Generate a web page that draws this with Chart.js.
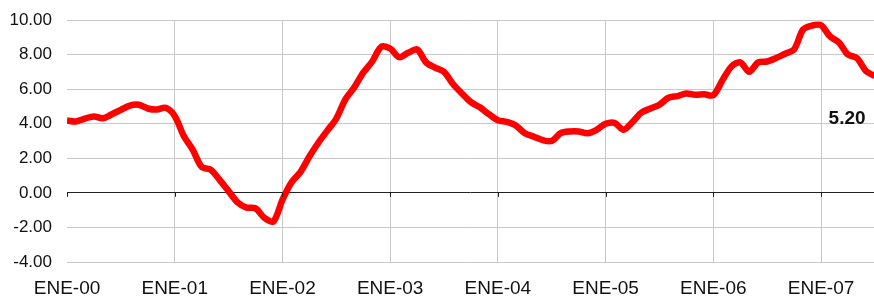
<!DOCTYPE html>
<html>
<head>
<meta charset="utf-8">
<script src="https://cdn.jsdelivr.net/npm/chart.js@4"></script>
<style>
  html, body { margin: 0; padding: 0; background: #fff; }
  canvas { display: block; }
</style>
</head>
<body>
<canvas id="grafico" width="874" height="297"></canvas>
<script>
// etichette anni (una ogni 12 mesi)
const anni = ['ENE-00', 'ENE-01', 'ENE-02', 'ENE-03', 'ENE-04', 'ENE-05', 'ENE-06', 'ENE-07'];

// valori mensili, gen 2000 -> lug 2007
const valori = [
  4.18, 4.13, 4.30, 4.42, 4.32, 4.55, 4.80, 5.05, 5.10, 4.88, 4.82, 4.92,
  4.45, 3.30, 2.50, 1.50, 1.35, 0.75, 0.10, -0.55, -0.85, -0.90, -1.45, -1.65,
  -0.40, 0.60, 1.20, 2.10, 2.90, 3.60, 4.30, 5.40, 6.10, 6.95, 7.60, 8.45,
  8.35, 7.85, 8.10, 8.30, 7.55, 7.25, 7.00, 6.30, 5.75, 5.25, 4.95, 4.55,
  4.20, 4.10, 3.90, 3.45, 3.25, 3.05, 3.00, 3.45, 3.55, 3.55, 3.45, 3.65,
  4.00, 4.05, 3.65, 4.10, 4.65, 4.88, 5.10, 5.50, 5.60, 5.75, 5.67, 5.70,
  5.65, 6.50, 7.30, 7.55, 7.00, 7.55, 7.60, 7.80, 8.05, 8.30, 9.45, 9.68,
  9.70, 9.05, 8.70, 8.00, 7.80, 7.05, 6.75
];

// ultimo dato indicato sul grafico
const ultimoValore = '5.20';
const posUltimo = { x: 86.9, y: 4.28 };

const punti = valori.map((v, i) => ({ x: i, y: v }));

// tacche sotto la linea dello zero + testo del valore finale
const extraPlugin = {
  id: 'extra',
  afterDatasetsDraw(chart) {
    const c = chart.ctx;
    const sx = chart.scales.x;
    const sy = chart.scales.y;
    const y0 = sy.getPixelForValue(0);
    c.save();
    c.strokeStyle = '#222';
    c.lineWidth = 1;
    anni.forEach((a, i) => {
      const x = Math.round(sx.getPixelForValue(i * 12)) + 0.5;
      c.beginPath();
      c.moveTo(x, y0);
      c.lineTo(x, y0 + 4);
      c.stroke();
    });
    c.fillStyle = '#111';
    c.font = 'bold 19px "Liberation Sans", Arial, sans-serif';
    c.textAlign = 'center';
    c.textBaseline = 'middle';
    c.fillText(ultimoValore, sx.getPixelForValue(posUltimo.x), sy.getPixelForValue(posUltimo.y));
    c.restore();
  }
};

const ctx = document.getElementById('grafico').getContext('2d');
const grafico = new Chart(ctx, {
  type: 'line',
  data: {
    datasets: [{
      data: punti,
      borderColor: '#ff0000',
      borderWidth: 6.5,
      pointRadius: 0,
      tension: 0.3,
      fill: false
    }]
  },
  options: {
    responsive: false,
    animation: false,
    layout: { padding: { top: 20, left: 0, right: 0, bottom: 0 } },
    plugins: {
      legend: { display: false },
      tooltip: { enabled: false }
    },
    scales: {
      x: {
        type: 'linear',
        min: 0,
        max: 89.9,
        border: { display: false },
        grid: {
          drawTicks: false,
          color: (c) => (c.tick && c.tick.value === 0 ? 'rgba(0,0,0,0)' : '#c8c8c8')
        },
        afterBuildTicks: (s) => { s.ticks = anni.map((a, i) => ({ value: i * 12 })); },
        afterFit: (s) => { s.height = 35; s.paddingLeft = 0; s.paddingRight = 0; },
        ticks: {
          autoSkip: false,
          padding: 17,
          color: '#111',
          maxRotation: 0,
          font: { family: '"Liberation Sans", Arial, sans-serif', size: 19, lineHeight: 1 },
          callback: (v) => anni[v / 12] || ''
        }
      },
      y: {
        min: -4,
        max: 10,
        border: { display: false },
        grid: {
          drawTicks: false,
          color: (c) => (c.tick && c.tick.value === 0 ? '#222' : '#c8c8c8')
        },
        afterFit: (s) => { s.width = 67; s.paddingTop = 0; s.paddingBottom = 0; },
        ticks: {
          stepSize: 2,
          padding: 15,
          color: '#111',
          font: { family: '"Liberation Sans", Arial, sans-serif', size: 17 },
          callback: (v) => v.toFixed(2)
        }
      }
    }
  },
  plugins: [extraPlugin]
});
</script>
</body>
</html>
